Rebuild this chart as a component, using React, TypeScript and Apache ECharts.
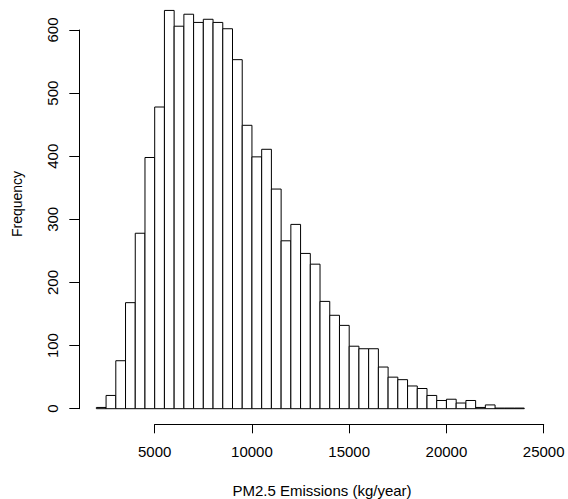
import React, { useEffect, useRef } from "react";
import * as echarts from "echarts";

// Histogram bin breaks (kg/year)
const breaks = [
  2000, 2500, 3000, 3500, 4000, 4500, 5000, 5500, 6000, 6500, 7000, 7500,
  8000, 8500, 9000, 9500, 10000, 10500, 11000, 11500, 12000, 12500, 13000,
  13500, 14000, 14500, 15000, 15500, 16000, 16500, 17000, 17500, 18000,
  18500, 19000, 19500, 20000, 20500, 21000, 21500, 22000, 22500, 23000,
  23500, 24000,
];

// Frequency per bin
const counts = [
  2, 21, 76, 168, 278, 398, 478, 631, 606, 625, 612, 617, 612, 602, 553, 449,
  399, 411, 348, 266, 292, 246, 229, 170, 148, 132, 99, 95, 95, 66, 50, 46, 36,
  32, 21, 13, 15, 9, 13, 2, 6, 1, 1, 1,
];

const xTicks = [5000, 10000, 15000, 20000, 25000];
const yTicks = [0, 100, 200, 300, 400, 500, 600];

const xTitle = "PM2.5 Emissions (kg/year)";
const yTitle = "Frequency";

const FONT = "'Liberation Sans', Arial, sans-serif";

export default function App() {
  const ref = useRef<HTMLDivElement>(null);

  useEffect(() => {
    if (!ref.current) return;
    const chart = echarts.init(ref.current, null, { renderer: "svg" });
    const data = counts.map((c, i) => [breaks[i], breaks[i + 1], c]);
    chart.setOption({
      animation: false,
      backgroundColor: "#ffffff",
      grid: { left: 154.7, right: 24.3, top: 30, bottom: 90.3, containLabel: false },
      xAxis: {
        type: "value",
        min: xTicks[0],
        max: xTicks[xTicks.length - 1],
        interval: 5000,
        offset: 15.6,
        axisLine: { show: true, onZero: false, lineStyle: { color: "#000", width: 1 } },
        axisTick: { show: true, length: 9, lineStyle: { color: "#000", width: 1 } },
        splitLine: { show: false },
        axisLabel: {
          color: "#000",
          fontFamily: FONT,
          fontSize: 15,
          margin: 20,
          formatter: (v: number) => String(v),
        },
      },
      yAxis: {
        type: "value",
        min: yTicks[0],
        max: yTicks[yTicks.length - 1],
        interval: 100,
        offset: 75.4,
        axisLine: { show: true, lineStyle: { color: "#000", width: 1 } },
        axisTick: { show: true, length: 10, lineStyle: { color: "#000", width: 1 } },
        splitLine: { show: false },
        axisLabel: {
          color: "#000",
          fontFamily: FONT,
          fontSize: 15,
          rotate: 90,
          margin: 19,
          formatter: (v: number) => String(v),
        },
      },
      graphic: [
        {
          type: "text",
          x: 322,
          y: 490,
          style: {
            text: xTitle,
            font: `15px ${FONT}`,
            fill: "#000",
            align: "center",
            verticalAlign: "middle",
          },
        },
        {
          type: "text",
          x: 17,
          y: 204,
          rotation: Math.PI / 2,
          style: {
            text: yTitle,
            font: `14px ${FONT}`,
            fill: "#000",
            align: "center",
            verticalAlign: "middle",
          },
        },
      ],
      series: [
        {
          type: "custom",
          clip: false,
          data,
          encode: { x: [0, 1], y: 2 },
          renderItem: (params: any, api: any) => {
            const x0 = api.value(0);
            const x1 = api.value(1);
            const c = api.value(2);
            const p0 = api.coord([x0, c]);
            const p1 = api.coord([x1, 0]);
            return {
              type: "rect",
              shape: { x: p0[0], y: p0[1], width: p1[0] - p0[0], height: p1[1] - p0[1] },
              style: { fill: "#ffffff", stroke: "#000", lineWidth: 1 },
            };
          },
        },
      ],
    });
    return () => chart.dispose();
  }, []);

  return (
    <div
      ref={ref}
      style={{ position: "absolute", left: 0, top: 0, width: 568, height: 499 }}
    />
  );
}
